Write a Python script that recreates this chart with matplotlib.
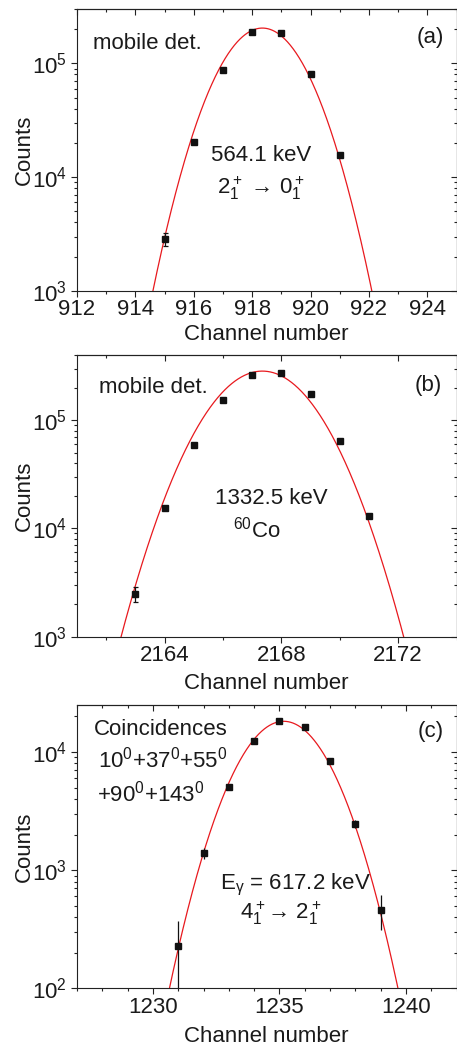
import numpy as np
import matplotlib
matplotlib.use("Agg")
import matplotlib.pyplot as plt
from matplotlib.ticker import MultipleLocator, LogLocator, NullFormatter

plt.rcParams['font.family'] = ['Liberation Sans', 'DejaVu Sans']
plt.rcParams['mathtext.fontset'] = 'custom'
plt.rcParams['mathtext.rm'] = 'Liberation Sans'
plt.rcParams['mathtext.it'] = 'Liberation Sans'
plt.rcParams['mathtext.sf'] = 'Liberation Sans'
plt.rcParams['mathtext.bf'] = 'Liberation Sans:bold'
plt.rcParams['mathtext.fallback'] = 'stixsans'

# ---------------- data ----------------
# (a) mobile detector, 564.1 keV
chan_a = [915, 916, 917, 918, 919, 920, 921]
counts_a = [2860, 20400, 87600, 187000, 183000, 80500, 15700]
err_a = [390, 600, 1200, 2000, 2000, 1200, 500]
fit_a = dict(amp=2.04e5, center=918.35, sigma=1.15)

# (b) mobile detector, 1332.5 keV 60Co
chan_b = [2163, 2164, 2165, 2166, 2167, 2168, 2169, 2170, 2171]
counts_b = [2480, 15300, 58400, 153000, 261000, 272000, 173000, 64900, 13100]
err_b = [380, 500, 900, 1500, 2000, 2000, 1500, 900, 500]
fit_b = dict(amp=2.84e5, center=2167.35, sigma=1.44)

# (c) coincidences, 617.2 keV
chan_c = [1231, 1232, 1233, 1234, 1235, 1236, 1237, 1238, 1239]
counts_c = [229, 1393, 5060, 12400, 18400, 16400, 8390, 2460, 461]
err_c = [145, 150, 200, 250, 300, 300, 250, 180, 150]
fit_c = dict(amp=1.82e4, center=1235.17, sigma=1.40)

W, H = 457, 1046
fig = plt.figure(figsize=(W / 100, H / 100), dpi=100)

TXT = '#1a1a1a'
SP = '#222222'


def add_axes(left, right, top, bottom):
    return fig.add_axes([left / W, 1 - bottom / H, (right - left) / W, (bottom - top) / H])


def gauss(x, p):
    return p['amp'] * np.exp(-(x - p['center']) ** 2 / (2 * p['sigma'] ** 2))


def style(ax, xlim, ylim, xmaj, xmin):
    ax.set_yscale('log')
    ax.set_xlim(*xlim)
    ax.set_ylim(*ylim)
    ax.xaxis.set_major_locator(MultipleLocator(xmaj))
    ax.xaxis.set_minor_locator(MultipleLocator(xmin))
    ax.yaxis.set_major_locator(LogLocator(base=10, numticks=10))
    ax.yaxis.set_minor_locator(LogLocator(base=10, subs=np.arange(2, 10), numticks=20))
    ax.yaxis.set_minor_formatter(NullFormatter())
    for s in ax.spines.values():
        s.set_color(SP)
        s.set_linewidth(0.8)
    ax.tick_params(which='both', direction='out', top=False, right=False,
                   colors=SP, labelcolor=TXT, labelsize=16, width=0.8)
    ax.tick_params(which='major', length=4)
    ax.tick_params(which='minor', length=2.5)
    ax.tick_params(axis='x', pad=2)
    ax.tick_params(axis='y', pad=3)
    top = ax.secondary_xaxis('top')
    top.xaxis.set_major_locator(MultipleLocator(xmaj))
    top.xaxis.set_minor_locator(MultipleLocator(xmin))
    top.tick_params(which='both', direction='in', labeltop=False, colors=SP, width=0.8)
    top.tick_params(which='major', length=4)
    top.tick_params(which='minor', length=2.5)
    right = ax.secondary_yaxis('right')
    right.tick_params(which='both', direction='in', labelright=False, colors=SP, width=0.8)
    right.tick_params(which='major', length=4)
    right.tick_params(which='minor', length=2.5)
    right.yaxis.set_minor_formatter(NullFormatter())
    for s in list(top.spines.values()) + list(right.spines.values()):
        s.set_color(SP)
        s.set_linewidth(0.8)


def draw(ax, xlim, x, y, e, p, cap):
    xx = np.linspace(xlim[0], xlim[1], 1200)
    ax.plot(xx, gauss(xx, p), color='#e8191e', lw=0.9, zorder=2)
    ax.errorbar(x, y, yerr=e, fmt='s', color='#111111', ms=4.2, mec='#111111',
                elinewidth=0.9, capsize=cap, capthick=0.9, zorder=3)


# ---------- panel (a) ----------
axa = add_axes(77, 456.5, 9, 291)
xlim_a = (912, 925)
draw(axa, xlim_a, chan_a, counts_a, err_a, fit_a, 1.8)
style(axa, xlim_a, (1e3, 3e5), 2, 1)
axa.set_xlabel('Channel number', fontsize=16, color=TXT)
axa.set_ylabel('Counts', fontsize=16, color=TXT)
axa.xaxis.set_label_coords(0.5, -0.118)
axa.yaxis.set_label_coords(-0.11, 0.5)
axa.text(0.041, 0.879, 'mobile det.', transform=axa.transAxes, fontsize=16,
         color=TXT, ha='left', va='center')
axa.text(0.93, 0.90, '(a)', transform=axa.transAxes, fontsize=16,
         color=TXT, ha='center', va='center')
axa.text(0.485, 0.482, '564.1 keV', transform=axa.transAxes, fontsize=16,
         color=TXT, ha='center', va='center')
axa.text(0.483, 0.365, r'$2^+_1$ → $0^+_1$', transform=axa.transAxes,
         fontsize=16, color=TXT, ha='center', va='center')

# ---------- panel (b) ----------
axb = add_axes(77, 456.5, 355, 636.7)
xlim_b = (2161, 2174)
draw(axb, xlim_b, chan_b, counts_b, err_b, fit_b, 1.8)
style(axb, xlim_b, (1e3, 4e5), 4, 2)
axb.set_xlabel('Channel number', fontsize=16, color=TXT)
axb.set_ylabel('Counts', fontsize=16, color=TXT)
axb.xaxis.set_label_coords(0.5, -0.128)
axb.yaxis.set_label_coords(-0.11, 0.5)
axb.text(0.059, 0.884, 'mobile det.', transform=axb.transAxes, fontsize=16,
         color=TXT, ha='left', va='center')
axb.text(0.925, 0.89, '(b)', transform=axb.transAxes, fontsize=16,
         color=TXT, ha='center', va='center')
axb.text(0.511, 0.489, '1332.5 keV', transform=axb.transAxes, fontsize=16,
         color=TXT, ha='center', va='center')
axb.text(0.474, 0.379, r'$^{60}$Co', transform=axb.transAxes, fontsize=16,
         color=TXT, ha='center', va='center')

# ---------- panel (c) ----------
axc = add_axes(77, 456.5, 705, 988.3)
xlim_c = (1227, 1242)
draw(axc, xlim_c, chan_c, counts_c, err_c, fit_c, 0)
style(axc, xlim_c, (1e2, 2.5e4), 5, 1)
axc.set_xlabel('Channel number', fontsize=16, color=TXT)
axc.set_ylabel('Counts', fontsize=16, color=TXT)
axc.xaxis.set_label_coords(0.5, -0.134)
axc.yaxis.set_label_coords(-0.11, 0.5)
axc.text(0.045, 0.912, 'Coincidences', transform=axc.transAxes, fontsize=16,
         color=TXT, ha='left', va='center')
axc.text(0.056, 0.806, r'10$^0$+37$^0$+55$^0$', transform=axc.transAxes, fontsize=16,
         color=TXT, ha='left', va='center')
axc.text(0.054, 0.688, r'+90$^0$+143$^0$', transform=axc.transAxes, fontsize=16,
         color=TXT, ha='left', va='center')
axc.text(0.931, 0.906, '(c)', transform=axc.transAxes, fontsize=16,
         color=TXT, ha='center', va='center')
axc.text(0.377, 0.365, r'E$_{\mathrm{γ}}$ = 617.2 keV', transform=axc.transAxes,
         fontsize=16, color=TXT, ha='left', va='center')
axc.text(0.536, 0.265, r'$4^+_1$→ $2^+_1$', transform=axc.transAxes,
         fontsize=16, color=TXT, ha='center', va='center')

fig.savefig('out.png', dpi=100)
